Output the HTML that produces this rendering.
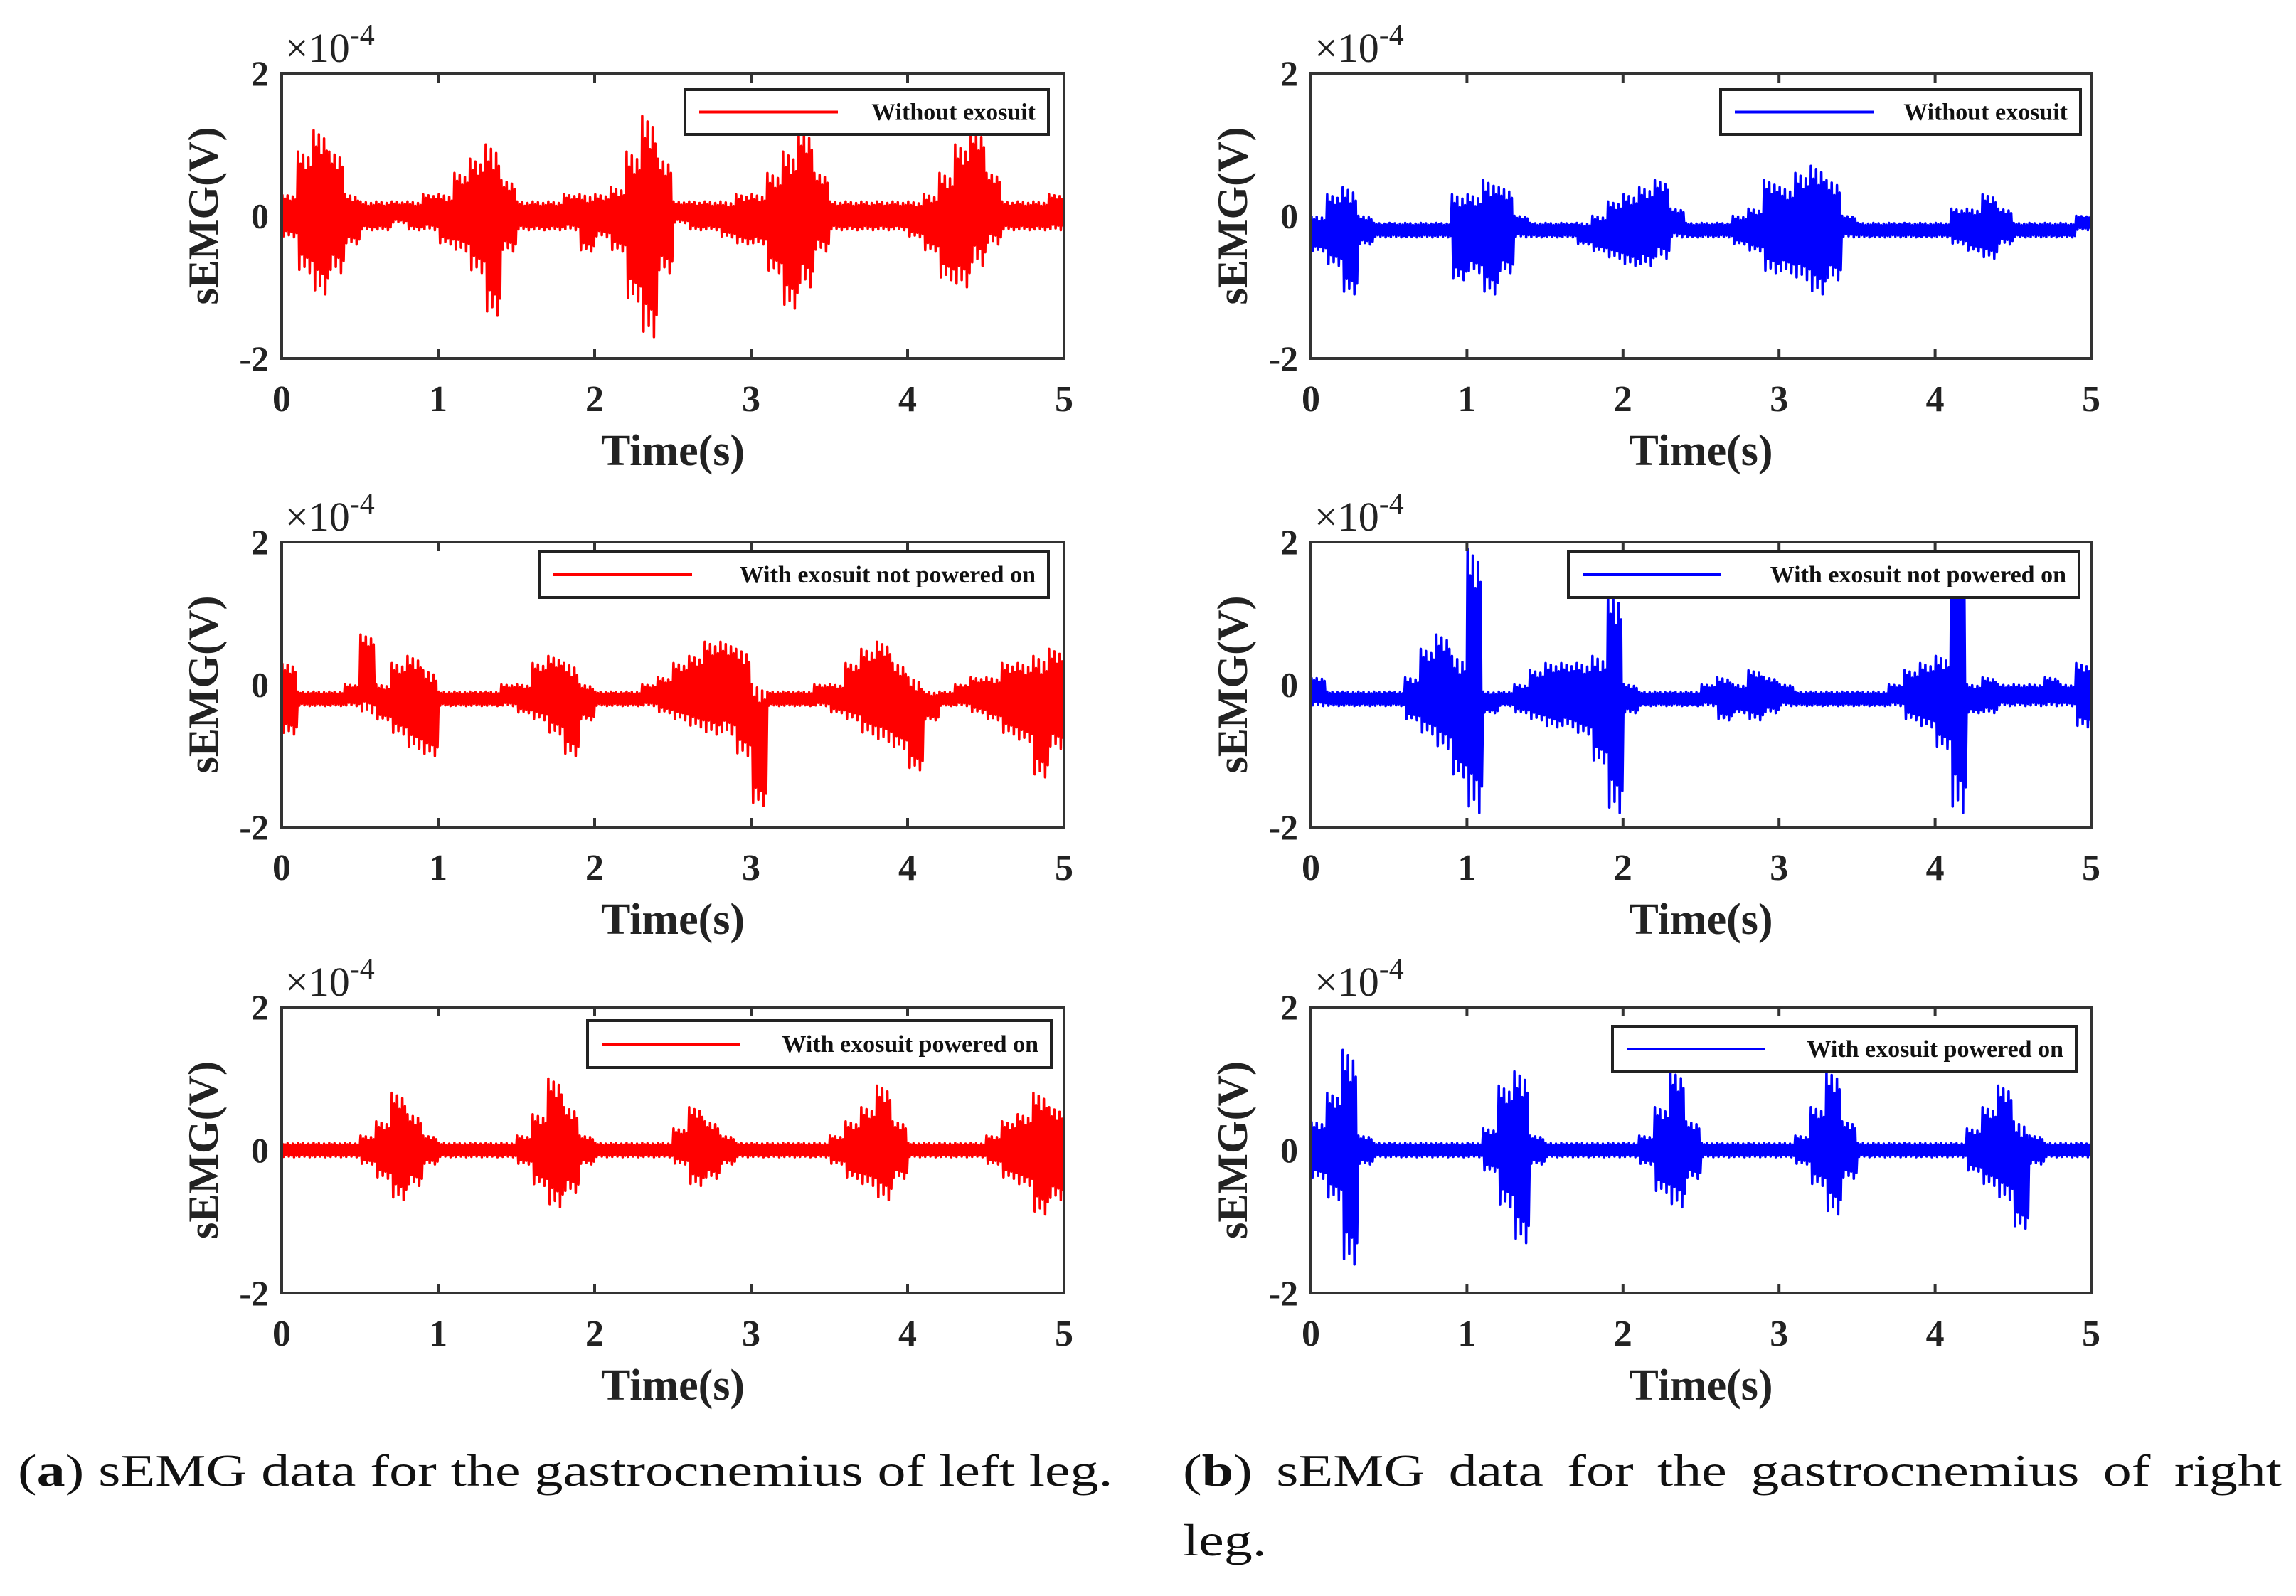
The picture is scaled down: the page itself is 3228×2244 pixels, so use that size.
<!DOCTYPE html>
<html><head><meta charset="utf-8">
<style>
html,body{margin:0;padding:0;background:#fff;}
body{width:3228px;height:2244px;overflow:hidden;position:relative;font-family:"Liberation Serif",serif;}
svg{position:absolute;left:0;top:0;}
.cap{position:absolute;font-size:64px;color:#111;line-height:1.2;transform:scaleX(1.25);transform-origin:0 0;white-space:nowrap;}
</style></head>
<body>
<svg id="fig" width="3228" height="2244"></svg>
<div class="cap" style="left:25px;top:2030px;">(<b>a</b>) sEMG data for the gastrocnemius of left leg.</div>
<div class="cap" style="left:1663px;top:2030px;width:1236px;text-align:justify;text-align-last:justify;white-space:normal;">(<b>b</b>) sEMG data for the gastrocnemius of right</div>
<div class="cap" style="left:1663px;top:2128px;">leg.</div>
<script>
const xTicks=[0,1,2,3,4,5];
const yTicks=[-2,0,2];
const legendLabels=["Without exosuit","With exosuit not powered on","With exosuit powered on"];
const L1hi=[0.3,0.9,1.2,0.9,0.3,0.2,0.2,0.2,0.2,0.3,0.3,0.6,0.8,1.0,0.5,0.2,0.2,0.2,0.3,0.3,0.3,0.4,0.9,1.4,0.8,0.2,0.2,0.2,0.2,0.3,0.3,0.6,0.9,1.2,0.6,0.2,0.2,0.2,0.2,0.2,0.2,0.3,0.6,1.0,1.2,0.6,0.2,0.2,0.2,0.3];
const L1lo=[-0.3,-0.8,-1.1,-0.8,-0.4,-0.2,-0.2,-0.1,-0.2,-0.2,-0.4,-0.5,-0.8,-1.4,-0.5,-0.2,-0.2,-0.2,-0.2,-0.5,-0.3,-0.5,-1.2,-1.7,-0.8,-0.1,-0.2,-0.2,-0.3,-0.4,-0.4,-0.8,-1.3,-1.0,-0.5,-0.2,-0.2,-0.2,-0.2,-0.2,-0.3,-0.5,-0.9,-1.0,-0.7,-0.4,-0.2,-0.2,-0.2,-0.2];
const L2hi=[0.3,-0.1,-0.1,-0.1,0.0,0.7,0.0,0.3,0.4,0.2,-0.1,-0.1,-0.1,-0.1,0.0,0.0,0.3,0.4,0.3,0.0,-0.1,-0.1,-0.1,0.0,0.1,0.3,0.4,0.6,0.6,0.5,0.0,-0.1,-0.1,-0.1,0.0,0.0,0.3,0.5,0.6,0.3,0.1,-0.1,-0.1,0.0,0.1,0.1,0.3,0.3,0.4,0.5];
const L2lo=[-0.7,-0.3,-0.3,-0.3,-0.3,-0.4,-0.5,-0.7,-0.9,-1.0,-0.3,-0.3,-0.3,-0.3,-0.3,-0.4,-0.5,-0.7,-1.0,-0.5,-0.3,-0.3,-0.3,-0.3,-0.4,-0.5,-0.6,-0.7,-0.7,-1.0,-1.7,-0.3,-0.3,-0.3,-0.3,-0.4,-0.5,-0.7,-0.8,-0.9,-1.2,-0.5,-0.3,-0.3,-0.4,-0.5,-0.7,-0.8,-1.3,-0.9];
const L3hi=[0.1,0.1,0.1,0.1,0.1,0.2,0.4,0.8,0.5,0.2,0.1,0.1,0.1,0.1,0.1,0.2,0.5,1.0,0.6,0.2,0.1,0.1,0.1,0.1,0.1,0.3,0.6,0.4,0.2,0.1,0.1,0.1,0.1,0.1,0.1,0.2,0.4,0.6,0.9,0.4,0.1,0.1,0.1,0.1,0.1,0.2,0.4,0.5,0.8,0.6];
const L3lo=[-0.1,-0.1,-0.1,-0.1,-0.1,-0.2,-0.4,-0.7,-0.5,-0.2,-0.1,-0.1,-0.1,-0.1,-0.1,-0.2,-0.5,-0.8,-0.6,-0.2,-0.1,-0.1,-0.1,-0.1,-0.1,-0.2,-0.5,-0.4,-0.2,-0.1,-0.1,-0.1,-0.1,-0.1,-0.1,-0.2,-0.4,-0.5,-0.7,-0.4,-0.1,-0.1,-0.1,-0.1,-0.1,-0.2,-0.4,-0.5,-0.9,-0.7];
const R1hi=[0.0,0.3,0.4,0.0,-0.1,-0.1,-0.1,-0.1,-0.1,0.3,0.3,0.5,0.4,0.0,-0.1,-0.1,-0.1,-0.1,0.0,0.2,0.3,0.4,0.5,0.1,-0.1,-0.1,-0.1,0.0,0.1,0.5,0.4,0.6,0.7,0.5,0.0,-0.1,-0.1,-0.1,-0.1,-0.1,-0.1,0.1,0.1,0.3,0.1,-0.1,-0.1,-0.1,-0.1,0.0];
const R1lo=[-0.5,-0.7,-1.1,-0.4,-0.3,-0.3,-0.3,-0.3,-0.3,-0.9,-0.8,-1.1,-0.8,-0.3,-0.3,-0.3,-0.3,-0.4,-0.5,-0.6,-0.7,-0.7,-0.6,-0.3,-0.3,-0.3,-0.3,-0.4,-0.5,-0.8,-0.8,-0.9,-1.1,-0.9,-0.3,-0.3,-0.3,-0.3,-0.3,-0.3,-0.3,-0.4,-0.5,-0.6,-0.4,-0.3,-0.3,-0.3,-0.3,-0.2];
const R2hi=[0.1,-0.1,-0.1,-0.1,-0.1,-0.1,0.1,0.5,0.7,0.4,1.9,-0.1,-0.1,0.0,0.2,0.3,0.3,0.3,0.4,1.3,0.0,-0.1,-0.1,-0.1,-0.1,0.0,0.1,0.0,0.2,0.1,0.0,-0.1,-0.1,-0.1,-0.1,-0.1,-0.1,0.0,0.2,0.3,0.4,1.8,0.0,0.1,0.0,0.0,0.0,0.1,0.0,0.3];
const R2lo=[-0.3,-0.3,-0.3,-0.3,-0.3,-0.3,-0.5,-0.7,-0.9,-1.3,-1.8,-0.4,-0.3,-0.4,-0.5,-0.6,-0.6,-0.7,-1.1,-1.8,-0.4,-0.3,-0.3,-0.3,-0.3,-0.3,-0.5,-0.4,-0.5,-0.4,-0.3,-0.3,-0.3,-0.3,-0.3,-0.3,-0.3,-0.3,-0.5,-0.6,-0.9,-1.8,-0.4,-0.4,-0.3,-0.3,-0.3,-0.3,-0.3,-0.6];
const R3hi=[0.4,0.8,1.4,0.2,0.1,0.1,0.1,0.1,0.1,0.1,0.1,0.3,0.9,1.1,0.2,0.1,0.1,0.1,0.1,0.1,0.1,0.2,0.6,1.1,0.4,0.1,0.1,0.1,0.1,0.1,0.1,0.2,0.6,1.1,0.4,0.1,0.1,0.1,0.1,0.1,0.1,0.1,0.3,0.6,0.9,0.4,0.2,0.1,0.1,0.1];
const R3lo=[-0.4,-0.7,-1.6,-0.2,-0.1,-0.1,-0.1,-0.1,-0.1,-0.1,-0.1,-0.3,-0.8,-1.3,-0.2,-0.1,-0.1,-0.1,-0.1,-0.1,-0.1,-0.2,-0.6,-0.8,-0.4,-0.1,-0.1,-0.1,-0.1,-0.1,-0.1,-0.2,-0.5,-0.9,-0.4,-0.1,-0.1,-0.1,-0.1,-0.1,-0.1,-0.1,-0.3,-0.5,-0.7,-1.1,-0.2,-0.1,-0.1,-0.1];

const NS="http://www.w3.org/2000/svg";
const svg=document.getElementById('fig');
function mk(tag,attrs,parent){const e=document.createElementNS(NS,tag);for(const k in attrs)e.setAttribute(k,attrs[k]);(parent||svg).appendChild(e);return e;}

const cols=[{x0:396,x1:1496,color:"#ff0000",side:"left"},{x0:1843,x1:2940,color:"#0000ff",side:"right"}];
const rows=[{y0:103,y1:504},{y0:762,y1:1163},{y0:1416,y1:1818}];
const series=[[[L1hi,L1lo],[L2hi,L2lo],[L3hi,L3lo]],[[R1hi,R1lo],[R2hi,R2lo],[R3hi,R3lo]]];
const legendBoxes=[[[963,126,1474,189],[758,776,1474,840],[826,1435,1478,1501]],[[2419,126,2925,189],[2205,776,2923,840],[2267,1443,2919,1507]]];
const wig=[1,0.5,0.8,0.35,0.95,0.6,0.7,0.45,0.9,0.55,0.75,0.4];

cols.forEach((c,ci)=>{rows.forEach((r,ri)=>{
  const g=mk('g',{});
  
  
  const xs=t=>c.x0+(t/5)*(c.x1-c.x0);
  const ys=v=>r.y1-((v+2)/4)*(r.y1-r.y0);
  const clip=mk('clipPath',{id:'cp'+ci+ri},g);
  mk('rect',{x:c.x0,y:r.y0,width:c.x1-c.x0,height:r.y1-r.y0},clip);
  const hi=series[ci][ri][0],lo=series[ci][ri][1];
  const n=hi.length,dt=5/n;let d='';
  for(let i=0;i<n;i++){
    const base=(hi[i]+lo[i])/2;
    for(let k=0;k<wig.length;k++){
      const t=i*dt+(k+0.5)*dt/wig.length;
      const v=k%2===0?base+(hi[i]-base)*wig[k]:base+(lo[i]-base)*wig[(k+3)%wig.length];
      d+=(d?'L':'M')+xs(t).toFixed(1)+','+ys(v).toFixed(1);
    }
  }
  const p=mk('path',{d:d,fill:'none',stroke:c.color,'stroke-width':3.5,'stroke-linejoin':'round','clip-path':'url(#cp'+ci+ri+')'},g);
  
  
  const fr=mk('rect',{x:c.x0,y:r.y0,width:c.x1-c.x0,height:r.y1-r.y0,fill:'none',stroke:'#333','stroke-width':4},g);
  
  
  xTicks.forEach(t=>{
    const x=xs(t);
    mk('line',{x1:x,y1:r.y1,x2:x,y2:r.y1-13,stroke:'#333','stroke-width':4},g);
    mk('line',{x1:x,y1:r.y0,x2:x,y2:r.y0+13,stroke:'#333','stroke-width':4},g);
    const tl=mk('text',{x:x,y:r.y1+74,'text-anchor':'middle','font-size':52,'font-weight':'bold',fill:'#222'},g);
    tl.textContent=t;
    
    
  });
  yTicks.forEach(v=>{
    const yl=mk('text',{x:c.x0-18,y:ys(v)+17,'text-anchor':'end','font-size':50,'font-weight':'bold',fill:'#222'},g);
    yl.textContent=v;
    
    
  });
  const ex=mk('text',{x:c.x0+5,y:r.y0-16,'font-size':58,fill:'#222'},g);
  
  
  ex.innerHTML='×10<tspan dy="-24" font-size="42">-4</tspan>';
  const xt=mk('text',{x:(c.x0+c.x1)/2,y:r.y1+150,'text-anchor':'middle','font-size':62,'font-weight':'bold',fill:'#222'},g);
  xt.textContent='Time(s)';
  
  
  const cy=(r.y0+r.y1)/2;
  const yt=mk('text',{x:c.x0-90,y:cy,'text-anchor':'middle','font-size':60,'font-weight':'bold',fill:'#222',transform:'rotate(-90 '+(c.x0-90)+' '+cy+')'},g);
  yt.textContent='sEMG(V)';
  
  
  const lb=legendBoxes[ci][ri];
  const lg=mk('g',{},g);
  
  
  mk('rect',{x:lb[0],y:lb[1],width:lb[2]-lb[0],height:lb[3]-lb[1],fill:'#fff',stroke:'#222','stroke-width':4},lg);
  const my=(lb[1]+lb[3])/2;
  mk('line',{x1:lb[0]+20,y1:my,x2:lb[0]+215,y2:my,stroke:c.color,'stroke-width':4},lg);
  const lt=mk('text',{x:lb[2]-18,y:my+11,'text-anchor':'end','font-size':34,'font-weight':'bold',fill:'#111'},lg);
  lt.textContent=legendLabels[ri];
  
  
});});
</script>
</body></html>
